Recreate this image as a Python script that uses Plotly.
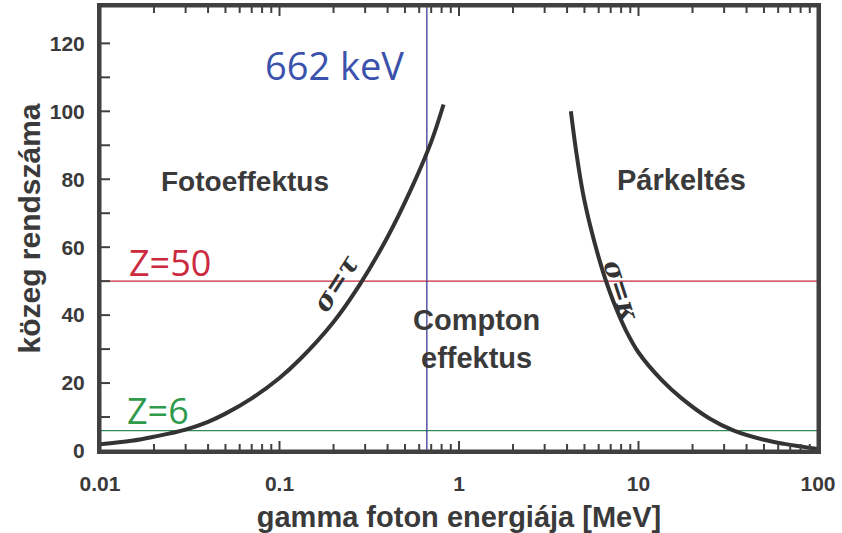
import plotly.graph_objects as go

# Boundary where photoeffect and Compton scattering are equally likely (sigma = tau)
photo_energy_mev = [0.01, 0.015, 0.02, 0.03, 0.04, 0.05, 0.07, 0.1, 0.13, 0.2, 0.28, 0.4, 0.54, 0.7, 0.82]
photo_z = [2, 3, 4.2, 6.3, 8.6, 11, 15.5, 21.5, 27, 38, 49, 63, 77, 91, 102]

# Boundary where pair production and Compton scattering are equally likely (sigma = kappa)
pair_energy_mev = [4.2, 4.5, 4.9, 5.4, 6.0, 6.5, 7.5, 8.6, 10, 13.4, 17.4, 25, 34, 50, 65, 100]
pair_z = [100, 88, 76, 66, 57, 51, 42, 35, 29, 21, 15.5, 9.5, 6, 3.3, 2.1, 0.6]

# Reference lines
cs137_energy_mev = 0.662
tin_z = 50
carbon_z = 6

x_major_vals = [0.01, 0.1, 1, 10, 100]
x_major_text = ["0.01", "0.1", "1", "10", "100"]
x_minor_vals = [m * d for d in (0.01, 0.1, 1, 10) for m in range(2, 10)]
y_tick_vals = list(range(0, 130, 10))
y_tick_text = [str(v) if v % 20 == 0 else "" for v in y_tick_vals]
x_range = [0.01, 100]
y_range = [0, 131]

axis_color = "#404040"
label_color = "#3a3a3a"
curve_color = "#333333"
bold_font = "Liberation Sans"
plain_font = "Open Sans"

fig = go.Figure()

fig.add_trace(go.Scatter(x=x_range, y=[tin_z, tin_z], mode="lines",
                         line=dict(color="#c8283c", width=1.3)))
fig.add_trace(go.Scatter(x=x_range, y=[carbon_z, carbon_z], mode="lines",
                         line=dict(color="#2f8a55", width=1.3)))
fig.add_trace(go.Scatter(x=[cs137_energy_mev, cs137_energy_mev], y=y_range, mode="lines",
                         line=dict(color="#3a3a98", width=1.3)))
fig.add_trace(go.Scatter(x=photo_energy_mev, y=photo_z, mode="lines",
                         line=dict(color=curve_color, width=4, shape="spline")))
fig.add_trace(go.Scatter(x=pair_energy_mev, y=pair_z, mode="lines",
                         line=dict(color=curve_color, width=4, shape="spline")))


def paper_x(px):
    return (px - 100) / 718


def paper_y(py):
    return (451 - py) / 445


labels = [
    ("662 keV", 334, 65, "center", 38, plain_font, "#3a52ac", 0, "normal"),
    ("Z=50", 127, 262, "left", 36, plain_font, "#cc2a3e", 0, "normal"),
    ("Z=6", 125, 410, "left", 36, plain_font, "#2e9a4c", 0, "normal"),
    ("Fotoeffektus", 245, 182, "center", 28, bold_font, label_color, 0, "bold"),
    ("Párkeltés", 681, 180, "center", 29, bold_font, label_color, 0, "bold"),
    ("Compton<br>effektus", 476, 339, "center", 29, bold_font, label_color, 0, "bold"),
    ("<i>σ=τ</i>", 336, 283, "center", 27, "DejaVu Serif", curve_color, -57, "bold"),
    ("<i>σ=κ</i>", 622, 290, "center", 27, "DejaVu Serif", curve_color, 72, "bold"),
]
for text, px, py, anchor, size, family, color, angle, weight in labels:
    fig.add_annotation(text=text, x=paper_x(px), y=paper_y(py), xref="paper", yref="paper",
                       xanchor=anchor, yanchor="middle", showarrow=False, textangle=angle,
                       font=dict(family=family, size=size, color=color, weight=weight))

# Frame: four heavy edges tied to the axis scales
frame = dict(color=axis_color, width=3)
for yp in (0, 1):
    fig.add_shape(type="line", xref="x", yref="paper", x0=x_range[0], x1=x_range[1],
                  y0=yp, y1=yp, line=frame, layer="above")
for xv in x_range:
    fig.add_shape(type="line", xref="x", yref="paper", x0=xv, x1=xv,
                  y0=0, y1=1, line=frame, layer="above")

# Inward tick marks on all four sides
tick_line = dict(color=axis_color, width=2)
for val in x_major_vals[1:-1] + x_minor_vals:
    length = 10 if val in x_major_vals else 7
    for anchor, sign in ((0, 1), (1, -1)):
        fig.add_shape(type="line", xref="x", yref="paper", ysizemode="pixel", yanchor=anchor,
                      x0=val, x1=val, y0=0, y1=sign * length,
                      line=tick_line, layer="above")
for val in y_tick_vals[1:]:
    for anchor, sign in ((x_range[0], 1), (x_range[1], -1)):
        fig.add_shape(type="line", xref="x", yref="y", xsizemode="pixel", xanchor=anchor,
                      x0=0, x1=sign * 10, y0=val, y1=val,
                      line=tick_line, layer="above")

fig.update_xaxes(
    type="log", range=[-2, 2],
    tickmode="array",
    tickvals=x_major_vals,
    ticktext=x_major_text,
    ticks="", showline=True, linewidth=3, linecolor=axis_color, mirror=True,
    showgrid=False, zeroline=False,
    ticklabelstandoff=12,
    tickfont=dict(family=bold_font, size=21, color=label_color, weight="bold"),
    title=dict(text="gamma foton energiája [MeV]", standoff=16,
               font=dict(family=bold_font, size=29, color=label_color, weight="bold")),
)
fig.update_yaxes(
    range=y_range,
    tickmode="array",
    tickvals=y_tick_vals,
    ticktext=y_tick_text,
    ticks="", showline=True, linewidth=3, linecolor=axis_color, mirror=True,
    showgrid=False, zeroline=False,
    ticklabelstandoff=8,
    tickfont=dict(family=bold_font, size=21, color=label_color, weight="bold"),
    title=dict(text="közeg rendszáma", standoff=1,
               font=dict(family=bold_font, size=30, color=label_color, weight="bold")),
)

fig.update_layout(
    template="none",
    width=842, height=533,
    margin=dict(l=100, r=24, t=6, b=82),
    paper_bgcolor="white", plot_bgcolor="white",
    showlegend=False,
)

fig.write_html("out.html")
